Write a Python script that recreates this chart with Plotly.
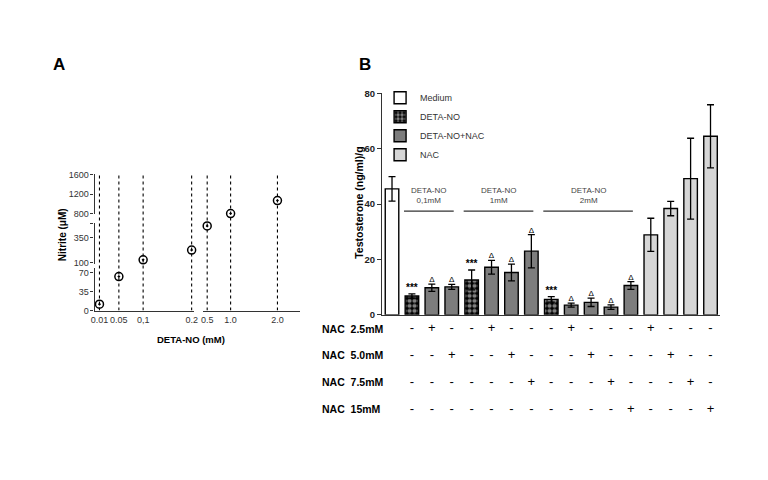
import plotly.graph_objects as go

# the page body has an 8px margin, so the figure is drawn at (8, 8)
OFF = 8
W, H = 768 - OFF, 480 - OFF
FONT = "Arial, Liberation Sans, sans-serif"

# ---- panel A: nitrite release vs DETA-NO dose
dose_mM = [0.01, 0.05, 0.1, 0.2, 0.5, 1.0, 2.0]
dose_labels = ["0.01", "0.05", "0,1", "0.2", "0.5", "1.0", "2.0"]
nitrite_uM = [12, 63, 126, 226, 473, 800, 1066]
nitrite_ticks_low = [0, 35, 70]
nitrite_ticks_mid = [100, 350]
nitrite_ticks_high = [800, 1200, 1600]

# ---- panel B: testosterone per treatment
bar_group = ["Medium", "DETA-NO", "DETA-NO+NAC", "DETA-NO+NAC",
             "DETA-NO", "DETA-NO+NAC", "DETA-NO+NAC", "DETA-NO+NAC",
             "DETA-NO", "DETA-NO+NAC", "DETA-NO+NAC", "DETA-NO+NAC", "DETA-NO+NAC",
             "NAC", "NAC", "NAC", "NAC"]
testo_mean = [45.5, 6.8, 9.8, 10.1, 12.6, 17.2, 15.3, 23.0, 5.6, 3.5, 4.5, 2.8, 10.6,
              28.9, 38.4, 49.2, 64.5]
testo_err = [4.4, 0.8, 1.3, 0.9, 3.6, 2.5, 3.0, 6.0, 1.0, 0.7, 1.5, 0.8, 1.4,
             6.0, 2.6, 14.6, 11.4]
signif = ["", "***", "Δ", "Δ", "***", "Δ", "Δ", "Δ", "***", "Δ", "Δ", "Δ", "Δ",
          "", "", "", ""]
group_labels = ["DETA-NO<br>0,1mM", "DETA-NO<br>1mM", "DETA-NO<br>2mM"]
group_first = [1, 4, 8]
group_last = [3, 7, 12]
bracket_level = 37.5
nac_rows = ["NAC\u00a0\u00a02.5mM", "NAC\u00a0\u00a05.0mM", "NAC\u00a0\u00a07.5mM", "NAC\u00a0\u00a015mM"]
nac_table = ["-+--+---+---+---",
             "--+--+---+---+--",
             "------+---+---+-",
             "-----------+---+"]
testo_ticks = [0, 20, 40, 60, 80]

styles = {
    "Medium": dict(color="white"),
    "DETA-NO": dict(color="black", pattern=dict(shape=".", fgcolor="white", bgcolor="black",
                                                size=5, solidity=0.55)),
    "DETA-NO+NAC": dict(color="#7d7d7d"),
    "NAC": dict(color="#d6d6d6"),
}


def px(p):
    return (p - OFF) / W


def py(p):
    return 1 - (p - OFF) / H


def dx(a, b):
    return [px(a), px(b)]


def dy(top, bottom):
    return [py(bottom), py(top)]


fig = go.Figure()

# dotted verticals at every dose (full height of panel A)
for d in dose_mM:
    fig.add_trace(go.Scatter(x=[d, d], y=[0, 1], mode="lines",
                             xaxis="x" if d < 0.3 else "x2", yaxis="y4",
                             line=dict(color="black", width=1.1, dash="dot"),
                             showlegend=False, hoverinfo="skip"))

# nitrite points, split over the broken axes
for d, v in zip(dose_mM, nitrite_uM):
    xa = "x" if d < 0.3 else "x2"
    ya = "y" if v < 80 else ("y2" if v < 600 else "y3")
    fig.add_trace(go.Scatter(x=[d], y=[v], mode="markers", xaxis=xa, yaxis=ya,
                             marker=dict(symbol="circle-open-dot", size=8, color="black",
                                         line=dict(width=1.5, color="black")),
                             cliponaxis=False, showlegend=False))

# bars
idx = list(range(len(testo_mean)))
for g in ["Medium", "DETA-NO", "DETA-NO+NAC", "NAC"]:
    sel = [i for i in idx if bar_group[i] == g]
    fig.add_trace(go.Bar(x=sel, y=[testo_mean[i] for i in sel], name=g,
                         xaxis="x3", yaxis="y5", width=0.68,
                         marker=dict(line=dict(color="black", width=1.4), **styles[g]),
                         error_y=dict(type="data", array=[testo_err[i] for i in sel],
                                      color="black", thickness=1.3, width=3.5)))

for mark, size in [("***", 10), ("Δ", 8)]:
    sel = [i for i in idx if signif[i] == mark]
    fig.add_trace(go.Scatter(x=sel, y=[testo_mean[i] + testo_err[i] for i in sel],
                             mode="text", text=[mark] * len(sel), textposition="top center",
                             textfont=dict(size=size, color="black", family=FONT,
                                           weight="bold" if mark == "***" else "normal"),
                             xaxis="x3", yaxis="y5", showlegend=False, cliponaxis=False))

# NAC +/- table
tx, ty, tt = [], [], []
for r, row in enumerate(nac_table):
    for c, ch in enumerate(row):
        tx.append(c + 1)
        ty.append(r)
        tt.append(ch)
fig.add_trace(go.Scatter(x=tx, y=ty, text=tt, mode="text", xaxis="x3", yaxis="y6",
                         textfont=dict(size=13, color="black", family=FONT),
                         showlegend=False, cliponaxis=False))

shapes = []
annotations = []
for lab, a, b in zip(group_labels, group_first, group_last):
    x0, x1 = a - 0.4, b + 0.1
    shapes.append(dict(type="line", xref="x3", yref="y5", x0=x0, x1=x1,
                       y0=bracket_level, y1=bracket_level,
                       line=dict(color="#333", width=1.3)))
    annotations.append(dict(x=(x0 + x1) / 2, y=bracket_level, xref="x3", yref="y5",
                            text=lab, showarrow=False, yanchor="bottom", yshift=4,
                            font=dict(size=8, color="#444", family=FONT)))
for r, lab in enumerate(nac_rows):
    annotations.append(dict(x=px(319), y=r, xref="paper", yref="y6", text=lab,
                            xanchor="left", yanchor="middle", showarrow=False,
                            font=dict(size=10.5, color="black", family=FONT, weight="bold")))

annotations += [
    dict(x=px(56), y=py(60), xref="paper", yref="paper", text="A", showarrow=False,
         xanchor="center", yanchor="middle",
         font=dict(size=17, color="black", family=FONT, weight="bold")),
    dict(x=px(365), y=py(60), xref="paper", yref="paper", text="B", showarrow=False,
         xanchor="center", yanchor="middle",
         font=dict(size=17, color="black", family=FONT, weight="bold")),
    dict(x=px(59), y=py(234), xref="paper", yref="paper", text="Nitrite (μM)",
         textangle=-90, showarrow=False, xanchor="center", yanchor="middle",
         font=dict(size=10, color="black", family=FONT, weight="bold")),
    dict(x=px(189), y=py(341), xref="paper", yref="paper", text="DETA-NO (mM)",
         showarrow=False, xanchor="center", yanchor="middle",
         font=dict(size=9.5, color="black", family=FONT, weight="bold")),
    dict(x=px(358), y=py(201), xref="paper", yref="paper", text="Testosterone (ng/ml)/g",
         textangle=-90, showarrow=False, xanchor="center", yanchor="middle",
         font=dict(size=10.5, color="black", family=FONT, weight="bold")),
]

tick_a = dict(size=9, color="#333", family=FONT)
axis_common = dict(showline=True, linecolor="#333", linewidth=1.3, showgrid=False,
                   zeroline=False, ticks="outside", ticklen=3, tickcolor="#333",
                   tickwidth=1.2)

fig.update_layout(
    width=W, height=H,
    margin=dict(l=0, r=0, t=0, b=0),
    paper_bgcolor="white", plot_bgcolor="rgba(0,0,0,0)",
    font=dict(family=FONT, color="#333"),
    barmode="overlay",
    shapes=shapes, annotations=annotations,
    legend=dict(x=px(380), y=py(123), xanchor="left", yanchor="middle",
                bgcolor="rgba(0,0,0,0)", font=dict(size=9, color="#333", family=FONT)),
    # panel A axes
    xaxis=dict(domain=dx(91.5, 192), range=[0, 0.205], anchor="y", tickangle=0,
               tickvals=dose_mM[:4], ticktext=dose_labels[:4], tickfont=tick_a,
               **{**axis_common, "ticks": ""}),
    xaxis2=dict(domain=dx(201, 299), range=[0.41, 2.48], anchor="y", tickangle=0,
                tickvals=dose_mM[4:], ticktext=dose_labels[4:], tickfont=tick_a,
                **{**axis_common, "ticks": ""}),
    yaxis=dict(domain=dy(268.5, 311.7), range=[0, 78], anchor="x",
               tickvals=nitrite_ticks_low, tickfont=tick_a, **axis_common),
    yaxis2=dict(domain=dy(222.3, 264.3), range=[80, 500], anchor="x",
                tickvals=nitrite_ticks_mid + [500], ticktext=[str(v) for v in nitrite_ticks_mid] + [""],
                tickfont=tick_a, **axis_common),
    yaxis3=dict(domain=dy(172.3, 212.3), range=[800, 1600], anchor="x",
                tickvals=nitrite_ticks_high, tickfont=tick_a, **axis_common),
    yaxis4=dict(domain=dy(172.3, 311.7), range=[0, 1], anchor="x", visible=False),
    # panel B axes
    xaxis3=dict(domain=dx(382, 724), range=[-0.5, 16.5], anchor="y5",
                showline=True, linecolor="#333", linewidth=1.4, showgrid=False,
                zeroline=False, showticklabels=False, ticks=""),
    yaxis5=dict(domain=dy(89.3, 316), range=[0, 80], anchor="x3",
                tickvals=testo_ticks,
                tickfont=dict(size=9.5, color="#222", family=FONT, weight="bold"),
                **{**axis_common, "ticklen": 4, "linewidth": 1.4}),
    yaxis6=dict(domain=dy(316.3, 426.5), range=[3.5, -0.5], anchor="x3", visible=False),
)

fig.write_html("out.html")
